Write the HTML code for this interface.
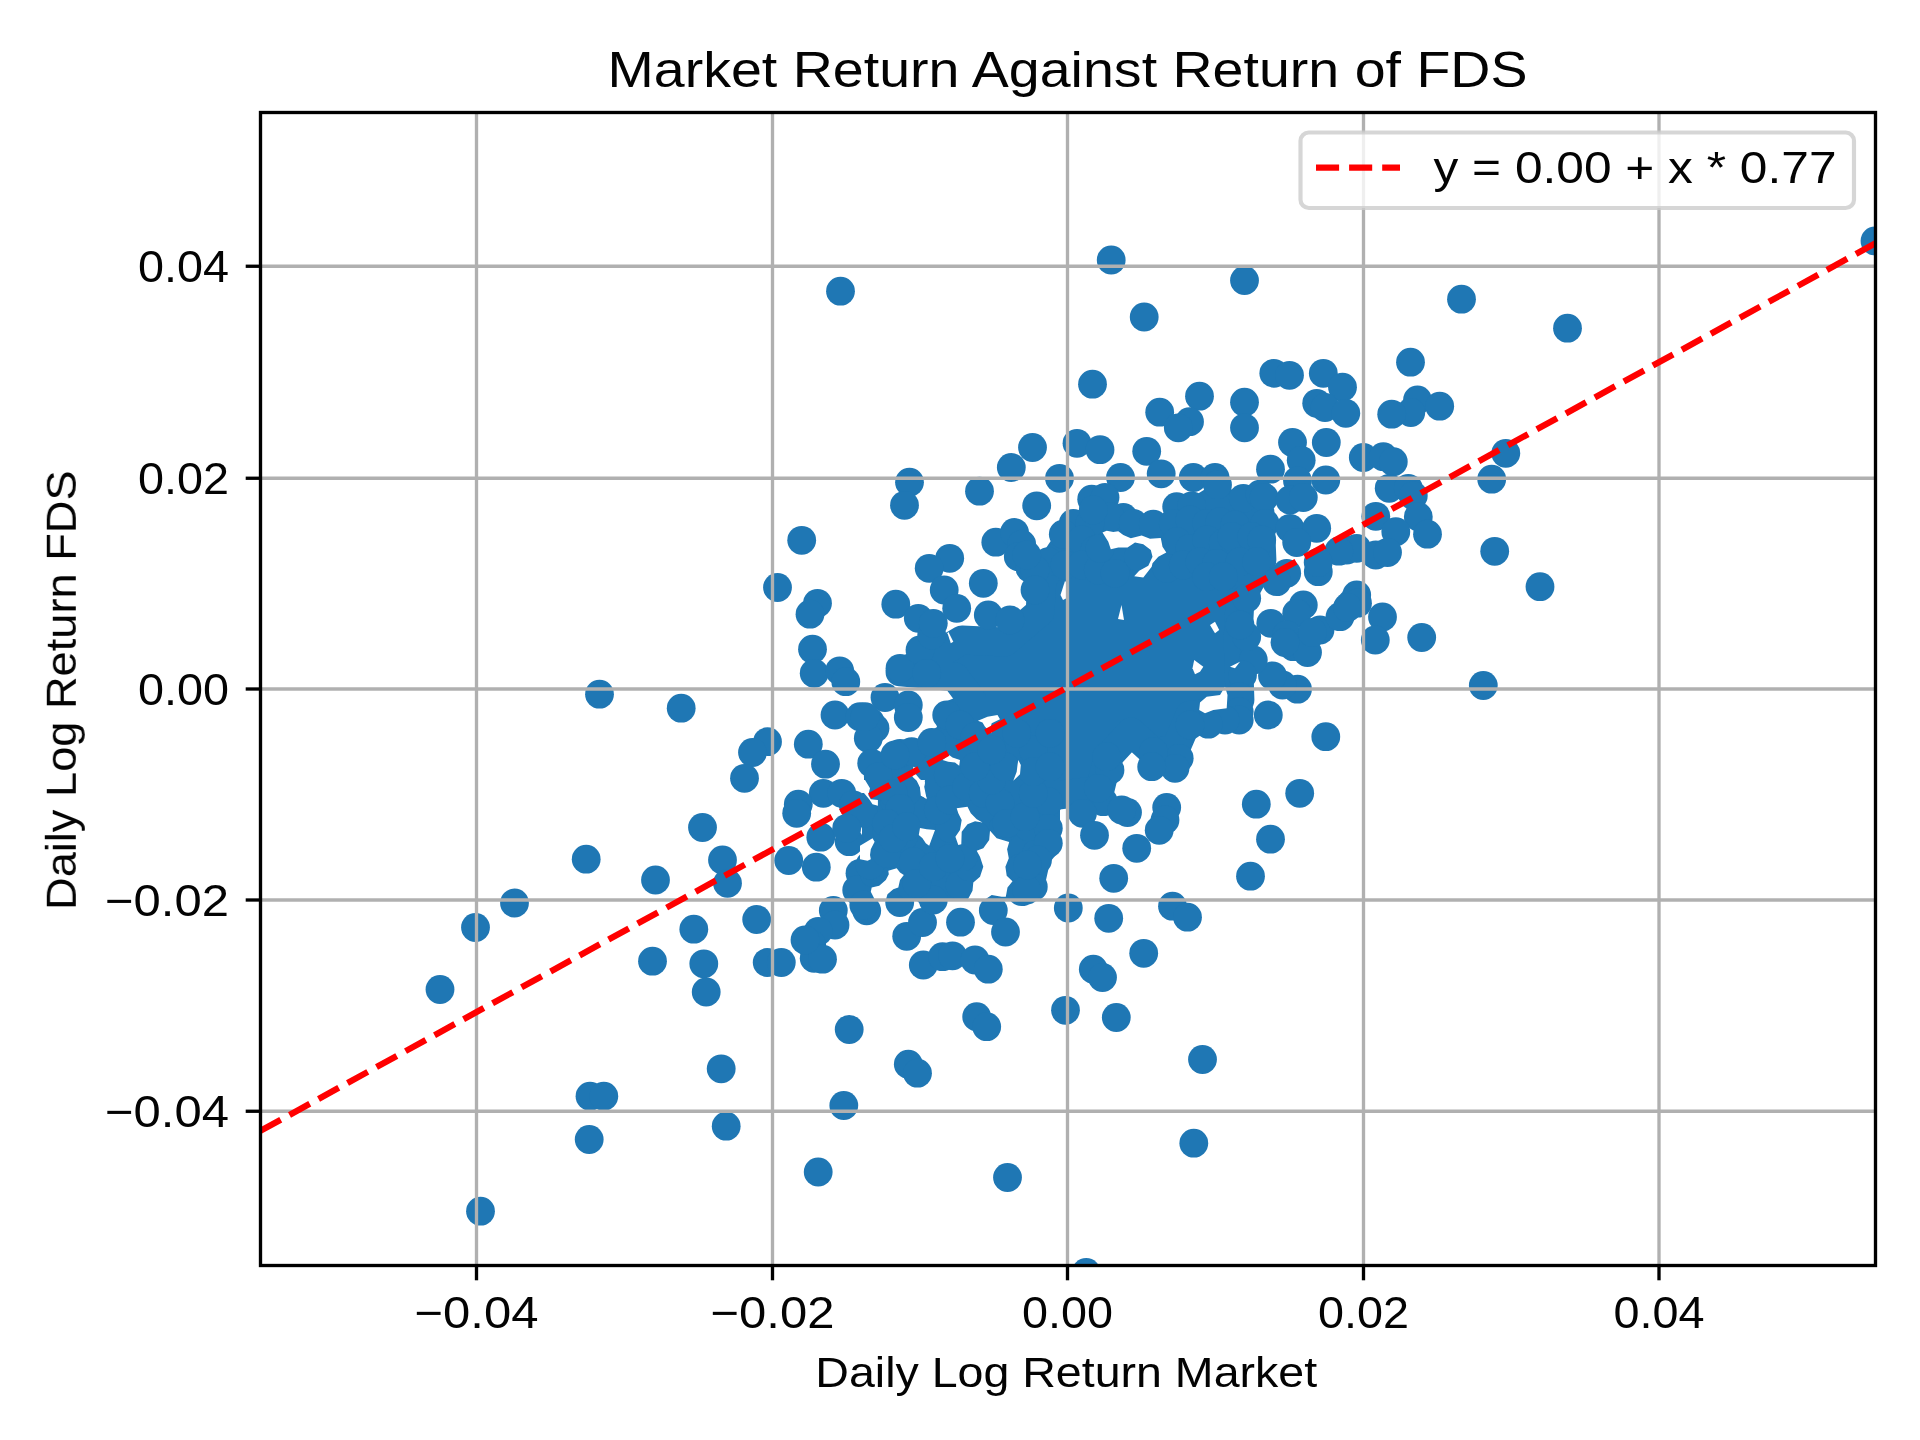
<!DOCTYPE html><html><head><meta charset="utf-8"><title>Market Return Against Return of FDS</title>
<style>html,body{margin:0;padding:0;background:#fff;}svg{display:block;}text{font-family:"Liberation Sans",sans-serif;fill:#000;}</style></head><body>
<svg width="1920" height="1440" viewBox="0 0 1920 1440">
<rect width="1920" height="1440" fill="#fff"/>
<defs><clipPath id="ax"><rect x="260.50" y="112.50" width="1615.00" height="1153.00"/></clipPath></defs>
<g clip-path="url(#ax)">
<g fill="#1f77b4" stroke="#1f77b4" stroke-width="28.8" stroke-linejoin="round">
<polygon points="925.0,662.0 962.0,640.0 1005.0,642.0 1040.0,612.0 1042.0,580.0 1062.0,550.0 1085.0,532.0 1150.0,538.0 1180.0,522.0 1215.0,500.0 1260.0,512.0 1262.0,560.0 1240.0,600.0 1238.0,640.0 1240.0,700.0 1225.0,712.0 1190.0,715.0 1175.0,750.0 1153.0,752.0 1131.0,732.0 1108.0,757.0 1100.0,790.0 1060.0,795.0 1000.0,790.0 975.0,760.0 975.0,720.0 972.0,700.0 955.0,677.0 900.0,672.0"/>
</g>
<g fill="#1f77b4">
<polygon points="957.0,697.0 1060.0,697.0 1060.0,793.0 900.0,793.0 900.0,752.0 921.0,737.0 937.0,727.0 934.0,714.0 947.0,701.0"/>
<polygon points="864.0,762.0 900.0,752.0 900.0,793.0 864.0,793.0"/>
<polygon points="862.0,793.0 1060.0,793.0 1060.0,850.0 1050.0,862.0 1046.0,880.0 1040.0,897.0 1010.0,897.0 1010.0,899.0 862.0,899.0"/>
<circle cx="909.5" cy="482.2" r="14.4"/>
<circle cx="904.5" cy="505.3" r="14.4"/>
<circle cx="801.7" cy="540.3" r="14.4"/>
<circle cx="777.5" cy="587.5" r="14.4"/>
<circle cx="979.5" cy="491.2" r="14.4"/>
<circle cx="1011.3" cy="467.5" r="14.4"/>
<circle cx="1032.5" cy="447.5" r="14.4"/>
<circle cx="1036.7" cy="505.8" r="14.4"/>
<circle cx="995.8" cy="542.2" r="14.4"/>
<circle cx="1014.5" cy="532.5" r="14.4"/>
<circle cx="1021.7" cy="544.2" r="14.4"/>
<circle cx="1018.3" cy="556.7" r="14.4"/>
<circle cx="1030.0" cy="568.3" r="14.4"/>
<circle cx="949.7" cy="558.3" r="14.4"/>
<circle cx="929.2" cy="568.3" r="14.4"/>
<circle cx="983.3" cy="583.3" r="14.4"/>
<circle cx="944.2" cy="590.0" r="14.4"/>
<circle cx="1092.5" cy="384.2" r="14.4"/>
<circle cx="1159.7" cy="412.2" r="14.4"/>
<circle cx="1199.5" cy="396.2" r="14.4"/>
<circle cx="1189.5" cy="421.7" r="14.4"/>
<circle cx="1178.3" cy="427.8" r="14.4"/>
<circle cx="1244.5" cy="402.2" r="14.4"/>
<circle cx="1244.5" cy="427.8" r="14.4"/>
<circle cx="1273.8" cy="373.3" r="14.4"/>
<circle cx="1289.5" cy="375.3" r="14.4"/>
<circle cx="1323.3" cy="373.3" r="14.4"/>
<circle cx="1342.5" cy="387.2" r="14.4"/>
<circle cx="1316.7" cy="403.3" r="14.4"/>
<circle cx="1325.0" cy="407.5" r="14.4"/>
<circle cx="1345.8" cy="413.3" r="14.4"/>
<circle cx="1292.5" cy="442.5" r="14.4"/>
<circle cx="1301.2" cy="460.3" r="14.4"/>
<circle cx="1326.3" cy="442.5" r="14.4"/>
<circle cx="1270.5" cy="469.2" r="14.4"/>
<circle cx="1297.5" cy="480.8" r="14.4"/>
<circle cx="1325.8" cy="480.0" r="14.4"/>
<circle cx="1363.3" cy="457.5" r="14.4"/>
<circle cx="1077.0" cy="443.3" r="14.4"/>
<circle cx="1100.0" cy="449.7" r="14.4"/>
<circle cx="1146.7" cy="451.3" r="14.4"/>
<circle cx="1161.2" cy="473.8" r="14.4"/>
<circle cx="1120.5" cy="477.5" r="14.4"/>
<circle cx="1059.5" cy="478.3" r="14.4"/>
<circle cx="1193.3" cy="477.5" r="14.4"/>
<circle cx="1215.0" cy="477.5" r="14.4"/>
<circle cx="1217.5" cy="484.7" r="14.4"/>
<circle cx="1091.7" cy="499.2" r="14.4"/>
<circle cx="1105.0" cy="497.5" r="14.4"/>
<circle cx="1176.7" cy="506.7" r="14.4"/>
<circle cx="1191.7" cy="505.8" r="14.4"/>
<circle cx="1243.3" cy="498.3" r="14.4"/>
<circle cx="1260.0" cy="494.2" r="14.4"/>
<circle cx="1264.2" cy="497.5" r="14.4"/>
<circle cx="1290.0" cy="500.0" r="14.4"/>
<circle cx="1303.3" cy="497.5" r="14.4"/>
<circle cx="1265.0" cy="523.3" r="14.4"/>
<circle cx="1290.0" cy="528.3" r="14.4"/>
<circle cx="1316.7" cy="528.3" r="14.4"/>
<circle cx="1296.7" cy="542.5" r="14.4"/>
<circle cx="1318.3" cy="571.7" r="14.4"/>
<circle cx="1346.7" cy="550.0" r="14.4"/>
<circle cx="1356.7" cy="548.3" r="14.4"/>
<circle cx="1286.7" cy="573.3" r="14.4"/>
<circle cx="1073.3" cy="523.3" r="14.4"/>
<circle cx="1063.3" cy="534.2" r="14.4"/>
<circle cx="1123.3" cy="517.5" r="14.4"/>
<circle cx="1110.0" cy="516.7" r="14.4"/>
<circle cx="1133.3" cy="523.3" r="14.4"/>
<circle cx="1153.3" cy="524.2" r="14.4"/>
<circle cx="1090.0" cy="523.3" r="14.4"/>
<circle cx="1081.7" cy="540.0" r="14.4"/>
<circle cx="1095.0" cy="550.0" r="14.4"/>
<circle cx="1118.3" cy="561.7" r="14.4"/>
<circle cx="1138.3" cy="556.7" r="14.4"/>
<circle cx="1048.3" cy="561.7" r="14.4"/>
<circle cx="1065.0" cy="565.0" r="14.4"/>
<circle cx="1081.7" cy="565.0" r="14.4"/>
<circle cx="1098.3" cy="570.0" r="14.4"/>
<circle cx="1115.0" cy="573.3" r="14.4"/>
<circle cx="1173.3" cy="523.3" r="14.4"/>
<circle cx="1190.0" cy="520.0" r="14.4"/>
<circle cx="1206.7" cy="523.3" r="14.4"/>
<circle cx="1220.0" cy="521.7" r="14.4"/>
<circle cx="1235.0" cy="525.0" r="14.4"/>
<circle cx="1176.7" cy="541.7" r="14.4"/>
<circle cx="1190.0" cy="548.3" r="14.4"/>
<circle cx="1206.7" cy="540.0" r="14.4"/>
<circle cx="1223.3" cy="543.3" r="14.4"/>
<circle cx="1231.7" cy="536.7" r="14.4"/>
<circle cx="1251.7" cy="536.7" r="14.4"/>
<circle cx="1261.7" cy="540.0" r="14.4"/>
<circle cx="1166.7" cy="568.3" r="14.4"/>
<circle cx="1183.3" cy="565.0" r="14.4"/>
<circle cx="1200.0" cy="561.7" r="14.4"/>
<circle cx="1216.7" cy="563.3" r="14.4"/>
<circle cx="1240.0" cy="561.7" r="14.4"/>
<circle cx="1256.7" cy="561.7" r="14.4"/>
<circle cx="1206.7" cy="576.7" r="14.4"/>
<circle cx="1223.3" cy="576.7" r="14.4"/>
<circle cx="1410.5" cy="362.2" r="14.4"/>
<circle cx="1417.5" cy="400.0" r="14.4"/>
<circle cx="1410.8" cy="412.5" r="14.4"/>
<circle cx="1391.7" cy="414.2" r="14.4"/>
<circle cx="1439.7" cy="406.2" r="14.4"/>
<circle cx="1505.8" cy="453.3" r="14.4"/>
<circle cx="1491.7" cy="479.2" r="14.4"/>
<circle cx="1494.7" cy="551.3" r="14.4"/>
<circle cx="1540.0" cy="586.7" r="14.4"/>
<circle cx="1383.3" cy="456.7" r="14.4"/>
<circle cx="1393.3" cy="461.7" r="14.4"/>
<circle cx="1389.2" cy="488.3" r="14.4"/>
<circle cx="1408.3" cy="488.3" r="14.4"/>
<circle cx="1413.3" cy="495.8" r="14.4"/>
<circle cx="1375.8" cy="516.3" r="14.4"/>
<circle cx="1418.3" cy="516.7" r="14.4"/>
<circle cx="1395.8" cy="531.7" r="14.4"/>
<circle cx="1427.5" cy="534.2" r="14.4"/>
<circle cx="1375.8" cy="555.0" r="14.4"/>
<circle cx="1387.5" cy="552.5" r="14.4"/>
<circle cx="817.5" cy="603.3" r="14.4"/>
<circle cx="810.0" cy="614.2" r="14.4"/>
<circle cx="812.5" cy="649.2" r="14.4"/>
<circle cx="814.2" cy="673.3" r="14.4"/>
<circle cx="839.7" cy="670.8" r="14.4"/>
<circle cx="845.8" cy="681.7" r="14.4"/>
<circle cx="895.8" cy="604.2" r="14.4"/>
<circle cx="918.3" cy="618.3" r="14.4"/>
<circle cx="900.0" cy="668.3" r="14.4"/>
<circle cx="920.0" cy="650.0" r="14.4"/>
<circle cx="931.7" cy="635.0" r="14.4"/>
<circle cx="885.0" cy="697.5" r="14.4"/>
<circle cx="908.3" cy="705.0" r="14.4"/>
<circle cx="908.3" cy="717.5" r="14.4"/>
<circle cx="835.0" cy="715.0" r="14.4"/>
<circle cx="860.0" cy="716.7" r="14.4"/>
<circle cx="870.0" cy="721.7" r="14.4"/>
<circle cx="875.0" cy="728.3" r="14.4"/>
<circle cx="868.3" cy="738.3" r="14.4"/>
<circle cx="767.5" cy="741.7" r="14.4"/>
<circle cx="752.5" cy="752.5" r="14.4"/>
<circle cx="744.5" cy="778.3" r="14.4"/>
<circle cx="808.3" cy="744.2" r="14.4"/>
<circle cx="825.5" cy="764.2" r="14.4"/>
<circle cx="871.7" cy="763.3" r="14.4"/>
<circle cx="900.0" cy="753.3" r="14.4"/>
<circle cx="911.7" cy="751.7" r="14.4"/>
<circle cx="931.7" cy="742.5" r="14.4"/>
<circle cx="946.7" cy="715.0" r="14.4"/>
<circle cx="823.3" cy="793.3" r="14.4"/>
<circle cx="841.7" cy="793.3" r="14.4"/>
<circle cx="798.3" cy="804.2" r="14.4"/>
<circle cx="796.7" cy="813.3" r="14.4"/>
<circle cx="853.3" cy="805.0" r="14.4"/>
<circle cx="863.3" cy="813.3" r="14.4"/>
<circle cx="906.7" cy="791.7" r="14.4"/>
<circle cx="895.0" cy="801.7" r="14.4"/>
<circle cx="948.3" cy="775.0" r="14.4"/>
<circle cx="1325.8" cy="736.7" r="14.4"/>
<circle cx="1299.7" cy="793.3" r="14.4"/>
<circle cx="1256.3" cy="804.2" r="14.4"/>
<circle cx="1268.3" cy="715.0" r="14.4"/>
<circle cx="1297.5" cy="689.2" r="14.4"/>
<circle cx="1282.5" cy="685.0" r="14.4"/>
<circle cx="1272.5" cy="675.8" r="14.4"/>
<circle cx="1253.3" cy="660.0" r="14.4"/>
<circle cx="1242.5" cy="675.0" r="14.4"/>
<circle cx="1239.2" cy="696.7" r="14.4"/>
<circle cx="1239.2" cy="711.7" r="14.4"/>
<circle cx="1239.2" cy="720.0" r="14.4"/>
<circle cx="1225.0" cy="720.0" r="14.4"/>
<circle cx="1208.3" cy="724.2" r="14.4"/>
<circle cx="1190.0" cy="725.0" r="14.4"/>
<circle cx="1179.2" cy="758.3" r="14.4"/>
<circle cx="1175.0" cy="768.3" r="14.4"/>
<circle cx="1153.3" cy="751.7" r="14.4"/>
<circle cx="1151.7" cy="766.7" r="14.4"/>
<circle cx="1110.0" cy="770.0" r="14.4"/>
<circle cx="1106.7" cy="756.7" r="14.4"/>
<circle cx="1103.3" cy="801.7" r="14.4"/>
<circle cx="1098.3" cy="788.3" r="14.4"/>
<circle cx="1127.5" cy="812.5" r="14.4"/>
<circle cx="1166.7" cy="807.5" r="14.4"/>
<circle cx="1165.0" cy="820.0" r="14.4"/>
<circle cx="1082.5" cy="813.3" r="14.4"/>
<circle cx="1048.3" cy="801.7" r="14.4"/>
<circle cx="1303.3" cy="605.0" r="14.4"/>
<circle cx="1296.7" cy="613.3" r="14.4"/>
<circle cx="1270.8" cy="623.3" r="14.4"/>
<circle cx="1286.7" cy="635.0" r="14.4"/>
<circle cx="1293.3" cy="646.7" r="14.4"/>
<circle cx="1307.5" cy="652.5" r="14.4"/>
<circle cx="1320.0" cy="630.0" r="14.4"/>
<circle cx="1340.0" cy="616.7" r="14.4"/>
<circle cx="1351.7" cy="603.3" r="14.4"/>
<circle cx="1356.7" cy="595.0" r="14.4"/>
<circle cx="1276.7" cy="581.7" r="14.4"/>
<circle cx="1246.7" cy="598.3" r="14.4"/>
<circle cx="1246.7" cy="636.7" r="14.4"/>
<circle cx="1240.0" cy="625.0" r="14.4"/>
<circle cx="1382.5" cy="617.0" r="14.4"/>
<circle cx="1375.3" cy="640.0" r="14.4"/>
<circle cx="1421.7" cy="637.5" r="14.4"/>
<circle cx="1483.3" cy="685.5" r="14.4"/>
<circle cx="722.5" cy="860.0" r="14.4"/>
<circle cx="727.5" cy="883.3" r="14.4"/>
<circle cx="788.7" cy="860.5" r="14.4"/>
<circle cx="816.3" cy="867.2" r="14.4"/>
<circle cx="820.8" cy="837.2" r="14.4"/>
<circle cx="849.2" cy="841.7" r="14.4"/>
<circle cx="846.7" cy="828.3" r="14.4"/>
<circle cx="756.7" cy="919.5" r="14.4"/>
<circle cx="767.2" cy="962.5" r="14.4"/>
<circle cx="781.3" cy="962.5" r="14.4"/>
<circle cx="849.2" cy="1029.5" r="14.4"/>
<circle cx="908.3" cy="1064.2" r="14.4"/>
<circle cx="976.7" cy="1016.7" r="14.4"/>
<circle cx="986.7" cy="1026.7" r="14.4"/>
<circle cx="923.3" cy="965.0" r="14.4"/>
<circle cx="942.5" cy="956.7" r="14.4"/>
<circle cx="952.5" cy="955.8" r="14.4"/>
<circle cx="975.0" cy="960.0" r="14.4"/>
<circle cx="988.3" cy="969.2" r="14.4"/>
<circle cx="906.7" cy="936.3" r="14.4"/>
<circle cx="922.5" cy="922.5" r="14.4"/>
<circle cx="960.5" cy="922.2" r="14.4"/>
<circle cx="993.3" cy="910.5" r="14.4"/>
<circle cx="1005.5" cy="932.0" r="14.4"/>
<circle cx="899.7" cy="902.5" r="14.4"/>
<circle cx="866.7" cy="910.8" r="14.4"/>
<circle cx="833.3" cy="910.5" r="14.4"/>
<circle cx="835.0" cy="925.0" r="14.4"/>
<circle cx="818.3" cy="931.3" r="14.4"/>
<circle cx="811.7" cy="945.0" r="14.4"/>
<circle cx="814.2" cy="958.3" r="14.4"/>
<circle cx="822.5" cy="959.2" r="14.4"/>
<circle cx="860.0" cy="873.3" r="14.4"/>
<circle cx="856.7" cy="890.0" r="14.4"/>
<circle cx="874.2" cy="873.3" r="14.4"/>
<circle cx="870.0" cy="865.0" r="14.4"/>
<circle cx="886.7" cy="853.3" r="14.4"/>
<circle cx="903.3" cy="836.7" r="14.4"/>
<circle cx="886.7" cy="830.0" r="14.4"/>
<circle cx="913.3" cy="861.7" r="14.4"/>
<circle cx="911.7" cy="886.7" r="14.4"/>
<circle cx="928.3" cy="891.7" r="14.4"/>
<circle cx="945.0" cy="886.7" r="14.4"/>
<circle cx="960.0" cy="885.0" r="14.4"/>
<circle cx="969.2" cy="866.7" r="14.4"/>
<circle cx="963.3" cy="856.7" r="14.4"/>
<circle cx="933.3" cy="900.0" r="14.4"/>
<circle cx="975.0" cy="834.7" r="14.4"/>
<circle cx="945.0" cy="840.0" r="14.4"/>
<circle cx="950.0" cy="828.3" r="14.4"/>
<circle cx="1020.0" cy="848.3" r="14.4"/>
<circle cx="1020.0" cy="868.3" r="14.4"/>
<circle cx="1021.7" cy="891.7" r="14.4"/>
<circle cx="1033.3" cy="886.7" r="14.4"/>
<circle cx="1036.7" cy="853.3" r="14.4"/>
<circle cx="1003.3" cy="828.3" r="14.4"/>
<circle cx="1028.3" cy="826.7" r="14.4"/>
<circle cx="1270.5" cy="839.2" r="14.4"/>
<circle cx="1250.5" cy="876.2" r="14.4"/>
<circle cx="1094.5" cy="835.3" r="14.4"/>
<circle cx="1136.7" cy="848.3" r="14.4"/>
<circle cx="1159.2" cy="830.3" r="14.4"/>
<circle cx="1113.7" cy="878.3" r="14.4"/>
<circle cx="1068.3" cy="908.0" r="14.4"/>
<circle cx="1108.7" cy="918.3" r="14.4"/>
<circle cx="1172.5" cy="906.2" r="14.4"/>
<circle cx="1187.5" cy="917.2" r="14.4"/>
<circle cx="1143.7" cy="953.3" r="14.4"/>
<circle cx="1093.3" cy="969.2" r="14.4"/>
<circle cx="1102.5" cy="977.5" r="14.4"/>
<circle cx="1065.5" cy="1010.3" r="14.4"/>
<circle cx="1116.3" cy="1017.5" r="14.4"/>
<circle cx="1202.5" cy="1059.5" r="14.4"/>
<circle cx="1048.3" cy="828.3" r="14.4"/>
<circle cx="1048.3" cy="843.3" r="14.4"/>
<circle cx="1037.5" cy="860.0" r="14.4"/>
<circle cx="933.3" cy="623.3" r="14.4"/>
<circle cx="956.7" cy="608.3" r="14.4"/>
<circle cx="988.3" cy="615.0" r="14.4"/>
<circle cx="1010.0" cy="620.0" r="14.4"/>
<circle cx="926.7" cy="673.3" r="14.4"/>
<circle cx="1035.0" cy="570.0" r="14.4"/>
<circle cx="1026.7" cy="555.0" r="14.4"/>
<circle cx="1035.0" cy="590.0" r="14.4"/>
<circle cx="1093.3" cy="510.0" r="14.4"/>
<circle cx="1100.0" cy="548.3" r="14.4"/>
<circle cx="865.0" cy="716.7" r="14.4"/>
<circle cx="878.3" cy="776.7" r="14.4"/>
<circle cx="895.0" cy="755.0" r="14.4"/>
<circle cx="960.0" cy="725.0" r="14.4"/>
<circle cx="975.0" cy="736.7" r="14.4"/>
<circle cx="893.3" cy="793.3" r="14.4"/>
<circle cx="900.0" cy="808.3" r="14.4"/>
<circle cx="886.7" cy="823.3" r="14.4"/>
<circle cx="893.3" cy="838.3" r="14.4"/>
<circle cx="906.7" cy="826.7" r="14.4"/>
<circle cx="805.0" cy="940.0" r="14.4"/>
<circle cx="916.7" cy="883.3" r="14.4"/>
<circle cx="933.3" cy="866.7" r="14.4"/>
<circle cx="950.0" cy="858.3" r="14.4"/>
<circle cx="938.3" cy="810.0" r="14.4"/>
<circle cx="950.0" cy="800.0" r="14.4"/>
<circle cx="966.7" cy="786.7" r="14.4"/>
<circle cx="983.3" cy="793.3" r="14.4"/>
<circle cx="1000.0" cy="803.3" r="14.4"/>
<circle cx="991.7" cy="780.0" r="14.4"/>
<circle cx="975.0" cy="766.7" r="14.4"/>
<circle cx="1005.0" cy="766.7" r="14.4"/>
<circle cx="991.7" cy="750.0" r="14.4"/>
<circle cx="1006.7" cy="823.3" r="14.4"/>
<circle cx="1025.0" cy="816.7" r="14.4"/>
<circle cx="1033.3" cy="793.3" r="14.4"/>
<circle cx="1026.7" cy="890.0" r="14.4"/>
<circle cx="1033.3" cy="750.0" r="14.4"/>
<circle cx="1033.3" cy="771.7" r="14.4"/>
<circle cx="1050.0" cy="733.3" r="14.4"/>
<circle cx="1016.7" cy="733.3" r="14.4"/>
<circle cx="1050.0" cy="766.7" r="14.4"/>
<circle cx="1121.7" cy="810.0" r="14.4"/>
<circle cx="840.5" cy="291.2" r="14.4"/>
<circle cx="1111.2" cy="260.0" r="14.4"/>
<circle cx="1144.2" cy="317.0" r="14.4"/>
<circle cx="1244.5" cy="280.5" r="14.4"/>
<circle cx="1461.5" cy="299.2" r="14.4"/>
<circle cx="1567.5" cy="328.2" r="14.4"/>
<circle cx="599.5" cy="694.2" r="14.4"/>
<circle cx="681.2" cy="708.2" r="14.4"/>
<circle cx="702.5" cy="827.5" r="14.4"/>
<circle cx="1338.8" cy="551.2" r="14.4"/>
<circle cx="1318.2" cy="562.5" r="14.4"/>
<circle cx="1357.5" cy="603.2" r="14.4"/>
<circle cx="1347.5" cy="607.5" r="14.4"/>
<circle cx="1285.0" cy="642.5" r="14.4"/>
<circle cx="1312.5" cy="632.5" r="14.4"/>
<circle cx="586.2" cy="859.2" r="14.4"/>
<circle cx="655.5" cy="880.0" r="14.4"/>
<circle cx="514.5" cy="903.0" r="14.4"/>
<circle cx="475.5" cy="927.5" r="14.4"/>
<circle cx="693.8" cy="929.2" r="14.4"/>
<circle cx="652.5" cy="961.2" r="14.4"/>
<circle cx="703.8" cy="963.8" r="14.4"/>
<circle cx="706.2" cy="992.0" r="14.4"/>
<circle cx="440.0" cy="989.5" r="14.4"/>
<circle cx="590.0" cy="1096.2" r="14.4"/>
<circle cx="603.8" cy="1096.2" r="14.4"/>
<circle cx="589.2" cy="1139.5" r="14.4"/>
<circle cx="721.2" cy="1068.8" r="14.4"/>
<circle cx="726.2" cy="1126.2" r="14.4"/>
<circle cx="843.8" cy="1105.5" r="14.4"/>
<circle cx="818.2" cy="1172.0" r="14.4"/>
<circle cx="917.5" cy="1073.2" r="14.4"/>
<circle cx="1007.5" cy="1177.5" r="14.4"/>
<circle cx="1193.8" cy="1143.2" r="14.4"/>
<circle cx="863.8" cy="905.0" r="14.4"/>
<circle cx="1027.5" cy="865.0" r="14.4"/>
<circle cx="480.5" cy="1211.2" r="14.4"/>
<circle cx="1086.2" cy="1272.5" r="14.4"/>
<circle cx="1875.0" cy="241.0" r="14.4"/>
</g>
<g fill="#fff">
<polygon points="1102.5,532.5 1106.7,530.8 1113.3,532.0 1118.3,531.3 1123.3,535.0 1130.8,538.3 1141.7,535.4 1150.0,538.8 1160.8,537.9 1162.5,546.7 1166.3,552.5 1158.3,556.7 1152.5,563.3 1151.7,566.7 1143.3,577.5 1134.2,576.3 1139.2,570.8 1148.3,565.8 1152.5,556.7 1150.8,550.0 1143.3,544.2 1135.0,542.5 1127.5,547.5 1118.3,547.5 1110.8,549.2 1108.3,541.7"/>
<polygon points="1118.0,619.0 1121.5,605.0 1124.0,620.0"/>
<polygon points="918.3,780.0 925.0,780.0 924.2,786.7 926.7,799.2 921.7,795.8 920.0,786.7"/>
<polygon points="860.0,780.0 865.0,780.0 870.0,788.3 868.3,795.0 870.8,799.2 877.9,800.0 877.9,805.8 872.5,804.2 869.2,799.2 864.2,793.3 860.0,788.3"/>
<polygon points="920.0,827.9 926.7,829.2 935.0,830.0 932.5,836.7 929.2,845.8 925.8,843.3 922.5,838.3 918.8,835.0"/>
<polygon points="956.7,808.3 967.5,806.7 970.8,813.3 976.7,819.2 982.5,822.5 975.0,821.3 967.5,824.2 961.7,831.7 961.3,844.2 958.3,845.0 955.4,836.7 960.0,830.0 961.7,820.0 958.3,813.3"/>
<polygon points="860.0,845.8 866.7,841.7 872.5,838.3 874.6,841.7 870.8,849.2 870.0,855.0 870.8,859.2 867.5,860.8 860.0,859.2"/>
<polygon points="888.3,870.8 896.7,868.3 900.0,872.5 903.8,875.0 900.0,880.0 898.3,887.5 893.3,889.2 887.5,894.2 885.8,900.0 875.0,900.0 870.8,891.7 871.7,887.5 879.2,885.8 885.8,880.0 888.8,874.2"/>
<polygon points="990.0,830.8 996.7,838.3 1009.2,842.1 1007.1,849.2 1008.8,858.3 1005.4,866.7 1006.7,875.8 1012.5,881.3 1007.5,887.5 1005.8,896.7 1001.7,896.7 991.7,895.0 984.2,900.0 967.5,900.0 972.5,890.8 973.3,882.5 980.0,876.7 983.3,866.7 980.0,856.7 976.7,850.8 983.3,848.3 989.2,840.0"/>
<polygon points="977.9,720.8 987.5,716.7 997.5,715.0 1000.0,719.2 991.7,723.3 990.8,726.7 991.7,733.3 985.0,726.7 982.5,722.5"/>
<polygon points="942.5,760.0 949.2,755.0 952.5,757.5 960.0,760.0 959.2,765.8 955.0,762.5 948.3,761.7"/>
<polygon points="913.3,766.7 916.7,768.3 915.8,774.2 920.0,779.2 925.0,782.5 923.3,790.0 926.7,798.3 920.8,795.8 920.0,787.5 916.7,780.8 912.5,776.7"/>
<polygon points="1018.3,760.0 1020.8,765.0 1020.0,774.2 1013.3,780.8 1016.7,771.7 1017.5,765.0"/>
<polygon points="948.3,631.7 953.3,641.7 950.8,643.3 947.5,633.3"/>
<polygon points="1200.0,702.5 1206.7,696.7 1220.0,695.0 1225.0,686.7 1227.5,695.0 1226.7,708.3 1213.3,710.0 1205.0,713.3 1199.2,710.0"/>
<polygon points="1194.2,660.0 1203.3,666.7 1200.0,671.7 1195.0,674.2 1192.5,668.3"/>
<polygon points="1230.0,666.7 1240.0,661.7 1235.0,668.3"/>
<polygon points="1210.0,625.0 1215.0,621.7 1219.2,630.0 1215.0,633.3"/>
<polygon points="1060.5,595.0 1065.0,581.0 1067.0,583.0 1067.0,598.0 1063.0,600.0"/>
</g>
<g stroke="#b0b0b0" stroke-width="3.33" fill="none">
<line x1="476.50" y1="112.50" x2="476.50" y2="1265.50"/>
<line x1="772.50" y1="112.50" x2="772.50" y2="1265.50"/>
<line x1="1067.50" y1="112.50" x2="1067.50" y2="1265.50"/>
<line x1="1363.50" y1="112.50" x2="1363.50" y2="1265.50"/>
<line x1="1659.00" y1="112.50" x2="1659.00" y2="1265.50"/>
<line x1="260.50" y1="266.25" x2="1875.50" y2="266.25"/>
<line x1="260.50" y1="478.25" x2="1875.50" y2="478.25"/>
<line x1="260.50" y1="689.00" x2="1875.50" y2="689.00"/>
<line x1="260.50" y1="900.00" x2="1875.50" y2="900.00"/>
<line x1="260.50" y1="1111.25" x2="1875.50" y2="1111.25"/>
</g>
<line x1="260.50" y1="1130.83" x2="1875.50" y2="243.22" stroke="#ff0000" stroke-width="6.25" stroke-dasharray="23.1 10" stroke-dashoffset="0.00"/>
</g>
<g stroke="#000" stroke-width="3.33">
<line x1="476.50" y1="1265.50" x2="476.50" y2="1280.30"/>
<line x1="772.50" y1="1265.50" x2="772.50" y2="1280.30"/>
<line x1="1067.50" y1="1265.50" x2="1067.50" y2="1280.30"/>
<line x1="1363.50" y1="1265.50" x2="1363.50" y2="1280.30"/>
<line x1="1659.00" y1="1265.50" x2="1659.00" y2="1280.30"/>
<line x1="245.70" y1="266.25" x2="260.50" y2="266.25"/>
<line x1="245.70" y1="478.25" x2="260.50" y2="478.25"/>
<line x1="245.70" y1="689.00" x2="260.50" y2="689.00"/>
<line x1="245.70" y1="900.00" x2="260.50" y2="900.00"/>
<line x1="245.70" y1="1111.25" x2="260.50" y2="1111.25"/>
</g>
<rect x="260.50" y="112.50" width="1615.00" height="1153.00" fill="none" stroke="#000" stroke-width="3.33"/>
<rect x="1300.50" y="132.50" width="553.50" height="75.50" rx="8.3" ry="8.3" fill="#fff" fill-opacity="0.8" stroke="#ccc" stroke-opacity="0.8" stroke-width="4.17"/>
<line x1="1316" y1="167.6" x2="1400" y2="167.6" stroke="#ff0000" stroke-width="6.25" stroke-dasharray="23.1 10"/>
<g opacity="0.99">
<text x="607.5" y="87.0" font-size="50.5" text-anchor="start" textLength="920.0" lengthAdjust="spacingAndGlyphs">Market Return Against Return of FDS</text>
<text x="815.3" y="1386.5" font-size="43.0" text-anchor="start" textLength="501.8" lengthAdjust="spacingAndGlyphs">Daily Log Return Market</text>
<text x="0" y="0" font-size="43" textLength="439.6" lengthAdjust="spacingAndGlyphs" transform="translate(75.8,910) rotate(-90)">Daily Log Return FDS</text>
<text x="1433.5" y="183.0" font-size="44.0" text-anchor="start" textLength="403.0" lengthAdjust="spacingAndGlyphs">y = 0.00 + x * 0.77</text>
<text x="414.5" y="1327.8" font-size="44.0" text-anchor="start" textLength="124.0" lengthAdjust="spacingAndGlyphs">−0.04</text>
<text x="710.5" y="1327.8" font-size="44.0" text-anchor="start" textLength="124.0" lengthAdjust="spacingAndGlyphs">−0.02</text>
<text x="1022.0" y="1327.8" font-size="44.0" text-anchor="start" textLength="91.0" lengthAdjust="spacingAndGlyphs">0.00</text>
<text x="1318.0" y="1327.8" font-size="44.0" text-anchor="start" textLength="91.0" lengthAdjust="spacingAndGlyphs">0.02</text>
<text x="1613.5" y="1327.8" font-size="44.0" text-anchor="start" textLength="91.0" lengthAdjust="spacingAndGlyphs">0.04</text>
<text x="138.0" y="281.9" font-size="44.0" text-anchor="start" textLength="91.0" lengthAdjust="spacingAndGlyphs">0.04</text>
<text x="138.0" y="493.9" font-size="44.0" text-anchor="start" textLength="91.0" lengthAdjust="spacingAndGlyphs">0.02</text>
<text x="138.0" y="704.6" font-size="44.0" text-anchor="start" textLength="91.0" lengthAdjust="spacingAndGlyphs">0.00</text>
<text x="105.0" y="915.6" font-size="44.0" text-anchor="start" textLength="124.0" lengthAdjust="spacingAndGlyphs">−0.02</text>
<text x="105.0" y="1126.8" font-size="44.0" text-anchor="start" textLength="124.0" lengthAdjust="spacingAndGlyphs">−0.04</text>
</g>
</svg></body></html>
